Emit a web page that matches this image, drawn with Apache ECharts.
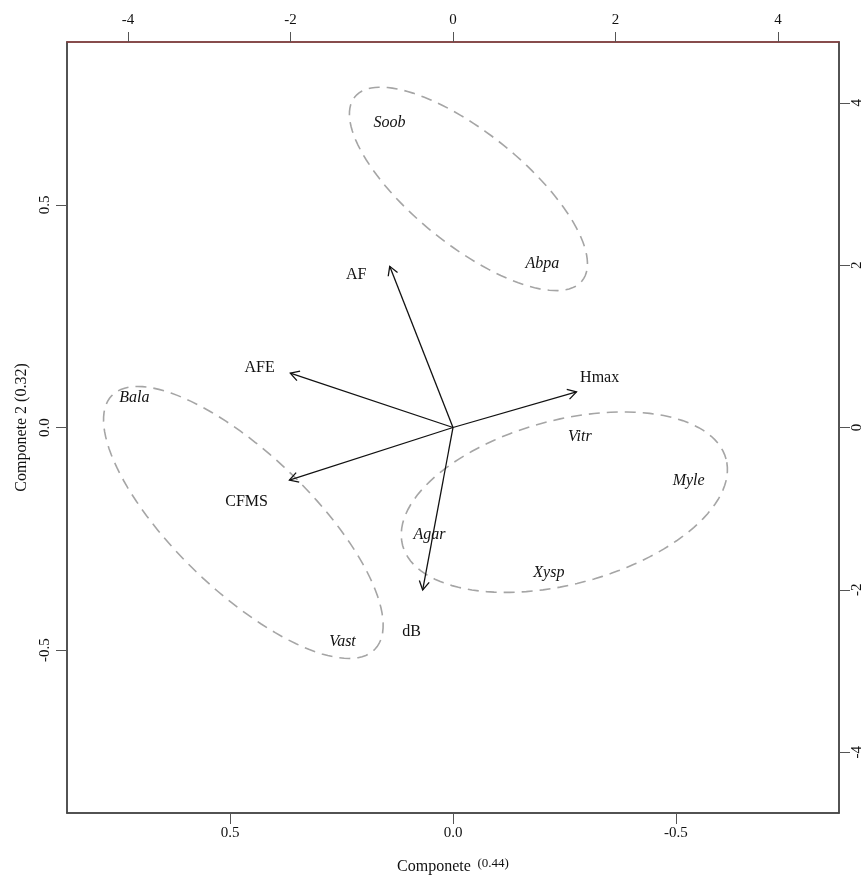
<!DOCTYPE html>
<html>
<head>
<meta charset="utf-8">
<script src="https://cdn.jsdelivr.net/npm/echarts@6/dist/echarts.min.js"></script>
<style>
  html, body { margin: 0; padding: 0; background: #fff; }
  #chart { width: 867px; height: 881px; }
</style>
</head>
<body>
<div id="chart"></div>
<script>
// Variables (loadings) - drawn on the bottom / left axes
var varNames = ['AF', 'AFE', 'Hmax', 'CFMS', 'dB'];
var arrowX = [0.142, 0.365, -0.277, 0.367, 0.068];
var arrowY = [0.362, 0.122, 0.080, -0.118, -0.365];
var varLabelX = [0.217, 0.434, -0.329, 0.463, 0.093];
var varLabelY = [0.342, 0.135, 0.111, -0.167, -0.459];

// Species (scores) - drawn on the top / right axes
var spNames = ['Soob', 'Abpa', 'Bala', 'Vitr', 'Myle', 'Agar', 'Xysp', 'Vast'];
var spX = [-0.78, 1.10, -3.92, 1.56, 2.90, -0.29, 1.18, -1.36];
var spY = [3.76, 2.02, 0.36, -0.12, -0.66, -1.32, -1.79, -2.64];

// Groups: ellipse centre, semi axes and angle (degrees), score units
var ellCx = [0.19, -2.58, 1.37];
var ellCy = [2.94, -1.17, -0.92];
var ellA = [1.80, 2.25, 2.06];
var ellB = [0.69, 0.84, 1.01];
var ellAngle = [-39, -44, 15];

// Axes
var loadLim = 0.866, scoreLim = 4.75;
var loadTicks = [-0.5, 0, 0.5];
var scoreTicks = [-4, -2, 0, 2, 4];

var FONT = '"Liberation Serif", "DejaVu Serif", serif';

var arrowData = arrowX.map(function (x, i) { return [x, arrowY[i]]; });
var varLabelData = varLabelX.map(function (x, i) { return [x, varLabelY[i]]; });
var spData = spX.map(function (x, i) { return [x, spY[i]]; });
var ellData = ellCx.map(function (x, i) { return [x, ellCy[i], ellA[i], ellB[i], ellAngle[i]]; });

function renderArrow(params, api) {
  var o = api.coord([0, 0]);
  var p = api.coord([api.value(0), api.value(1)]);
  var ang = Math.atan2(p[1] - o[1], p[0] - o[0]);
  var h = 10, w = Math.PI / 6;
  var h1 = [p[0] - h * Math.cos(ang - w), p[1] - h * Math.sin(ang - w)];
  var h2 = [p[0] - h * Math.cos(ang + w), p[1] - h * Math.sin(ang + w)];
  return {
    type: 'group',
    children: [
      { type: 'line', shape: { x1: o[0], y1: o[1], x2: p[0], y2: p[1] },
        style: { stroke: '#111', lineWidth: 1.3 } },
      { type: 'polyline', shape: { points: [h1, p, h2] },
        style: { stroke: '#111', lineWidth: 1.3, fill: null } }
    ]
  };
}

function textRenderer(names, italic) {
  return function (params, api) {
    var p = api.coord([api.value(0), api.value(1)]);
    return {
      type: 'text', x: p[0], y: p[1],
      style: {
        text: names[params.dataIndex], fill: '#111',
        fontFamily: FONT, fontSize: 16, fontStyle: italic ? 'italic' : 'normal',
        align: 'center', verticalAlign: 'middle'
      }
    };
  };
}

function renderEllipse(params, api) {
  var cx = api.value(0), cy = api.value(1), a = api.value(2), b = api.value(3);
  var th = api.value(4) * Math.PI / 180;
  var pts = [];
  for (var k = 0; k < 120; k++) {
    var t = 2 * Math.PI * k / 120;
    var x = cx + a * Math.cos(t) * Math.cos(th) - b * Math.sin(t) * Math.sin(th);
    var y = cy + a * Math.cos(t) * Math.sin(th) + b * Math.sin(t) * Math.cos(th);
    pts.push(api.coord([x, y]));
  }
  return {
    type: 'polygon', shape: { points: pts },
    style: { fill: null, stroke: '#a5a5a5', lineWidth: 1.6, lineDash: [11, 7] }
  };
}

var tickLabel = { fontFamily: FONT, fontSize: 15, color: '#111' };

var myChart = echarts.init(document.getElementById('chart'));
var option = {
  animation: false,
  backgroundColor: '#fff',
  grid: { left: 67, right: 28, top: 42, bottom: 68, show: true,
          borderColor: '#555', borderWidth: 1.5, backgroundColor: 'transparent' },
  xAxis: [
    {
      type: 'value', position: 'bottom', min: -loadLim, max: loadLim, inverse: true,
      splitLine: { show: false },
      axisLine: { show: true, onZero: false, lineStyle: { color: '#444', width: 1.5 } },
      axisTick: { show: true, length: 11, customValues: loadTicks, lineStyle: { color: '#555' } },
      axisLabel: Object.assign({ customValues: loadTicks, margin: 13,
        formatter: function (v) { return v.toFixed(1); } }, tickLabel),
      name: '{a|Componete}  {b|(0.44)}', nameLocation: 'middle', nameGap: 44,
      nameTextStyle: {
        rich: {
          a: { fontFamily: FONT, fontSize: 16, color: '#111' },
          b: { fontFamily: FONT, fontSize: 13, color: '#111', padding: [0, 0, 6, 0] }
        }
      }
    },
    {
      type: 'value', position: 'top', min: -scoreLim, max: scoreLim,
      splitLine: { show: false },
      axisLine: { show: true, onZero: false, lineStyle: { color: '#8b3d3d', width: 1.5 } },
      axisTick: { show: true, length: 10, customValues: scoreTicks, lineStyle: { color: '#555' } },
      axisLabel: Object.assign({ customValues: scoreTicks, margin: 14 }, tickLabel)
    }
  ],
  yAxis: [
    {
      type: 'value', position: 'left', min: -loadLim, max: loadLim,
      splitLine: { show: false },
      axisLine: { show: true, onZero: false, lineStyle: { color: '#444', width: 1.5 } },
      axisTick: { show: true, length: 11, customValues: loadTicks, lineStyle: { color: '#555' } },
      axisLabel: Object.assign({ customValues: loadTicks, margin: 14, rotate: 90,
        formatter: function (v) { return v.toFixed(1); } }, tickLabel),
      name: 'Componete 2 (0.32)', nameLocation: 'middle', nameGap: 34, nameRotate: 90,
      nameTextStyle: { fontFamily: FONT, fontSize: 16, color: '#111' }
    },
    {
      type: 'value', position: 'right', min: -scoreLim, max: scoreLim,
      splitLine: { show: false },
      axisLine: { show: true, onZero: false, lineStyle: { color: '#444', width: 1.5 } },
      axisTick: { show: true, length: 11, customValues: scoreTicks, lineStyle: { color: '#555' } },
      axisLabel: Object.assign({ customValues: scoreTicks, margin: 11, rotate: 90 }, tickLabel)
    }
  ],
  series: [
    { type: 'custom', name: 'groups', xAxisIndex: 1, yAxisIndex: 1, clip: false,
      renderItem: renderEllipse, data: ellData },
    { type: 'custom', name: 'arrows', xAxisIndex: 0, yAxisIndex: 0, clip: false,
      renderItem: renderArrow, data: arrowData },
    { type: 'custom', name: 'variables', xAxisIndex: 0, yAxisIndex: 0, clip: false,
      renderItem: textRenderer(varNames, false), data: varLabelData },
    { type: 'custom', name: 'species', xAxisIndex: 1, yAxisIndex: 1, clip: false,
      renderItem: textRenderer(spNames, true), data: spData }
  ]
};
myChart.setOption(option);
</script>
</body>
</html>
